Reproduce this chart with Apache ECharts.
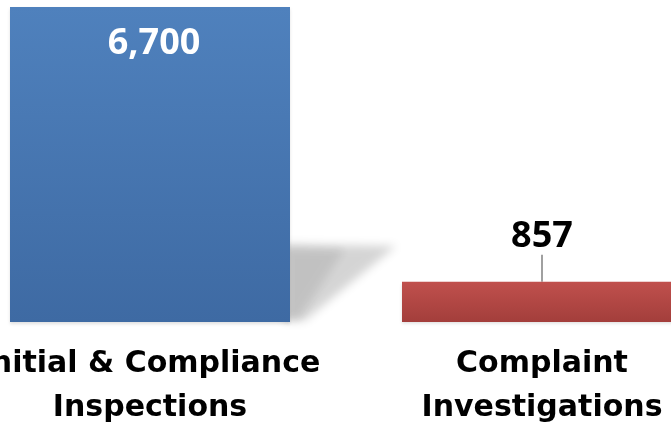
<!DOCTYPE html>
<html>
<head>
<meta charset="utf-8">
<script src="https://cdn.jsdelivr.net/npm/echarts@6/dist/echarts.min.js"></script>
<style>
  html, body { margin: 0; padding: 0; background: #fff; }
  #chart { width: 671px; height: 437px; }
</style>
</head>
<body>
<div id="chart"></div>
<script>
// 数据
const categories = ['Initial & Compliance\nInspections', 'Complaint\nInvestigations'];
const counts = [6700, 857];
const barColors = [
  ['#4f81bd', '#3e6aa3'],
  ['#c0504d', '#a33e3b']
];

const chart = echarts.init(document.getElementById('chart'));

function grad(c) {
  return new echarts.graphic.LinearGradient(0, 0, 0, 1, [
    { offset: 0, color: c[0] },
    { offset: 1, color: c[1] }
  ]);
}

const barWidth = 280;
const OFF = 3000; // 把形状移到画布外，只留下模糊的阴影

const option = {
  animation: false,
  grid: {
    left: -46, right: -67, top: 7, bottom: 115,
    containLabel: false,
    outerBoundsMode: 'none'
  },
  xAxis: {
    type: 'category',
    data: categories,
    axisLine: { show: false },
    axisTick: { show: false },
    axisLabel: {
      interval: 0,
      margin: 20,
      color: '#000',
      fontFamily: 'DejaVu Sans',
      fontWeight: 'bold',
      fontSize: 30,
      lineHeight: 44
    }
  },
  yAxis: {
    type: 'value',
    min: 0,
    max: 6700,
    show: false,
    splitLine: { show: false }
  },
  series: [
    {
      // 蓝色柱子右侧的投影
      type: 'custom',
      z: 1,
      silent: true,
      data: [[0, counts[0]]],
      renderItem: function (params, api) {
        const base = api.coord([0, 0]);
        const x = base[0] + barWidth / 2 - OFF;
        const y = base[1];
        return {
          type: 'group',
          children: [
            {
              type: 'polygon',
              shape: {
                points: [[x - 6, y - 78], [x + 106, y - 76], [x + 14, y - 1], [x - 6, y - 1]]
              },
              style: {
                fill: '#000',
                shadowBlur: 10,
                shadowColor: 'rgba(0,0,0,0.17)',
                shadowOffsetX: OFF
              }
            },
            {
              type: 'polygon',
              shape: {
                points: [[x - 6, y - 75], [x + 55, y - 73], [x + 8, y - 2], [x - 6, y - 2]]
              },
              style: {
                fill: '#000',
                shadowBlur: 10,
                shadowColor: 'rgba(0,0,0,0.09)',
                shadowOffsetX: OFF
              }
            }
          ]
        };
      }
    },
    {
      type: 'bar',
      z: 2,
      barWidth: barWidth,
      data: counts.map((v, i) => ({
        value: v,
        itemStyle: {
          color: grad(barColors[i]),
          shadowColor: 'rgba(0,0,0,0.12)',
          shadowBlur: 3,
          shadowOffsetY: 2
        },
        label: i === 0 ? {
          position: 'insideTop',
          distance: 19,
          color: '#fff'
        } : {
          position: 'top',
          distance: 5,
          color: '#000'
        }
      })),
      label: {
        show: true,
        fontFamily: 'Open Sans',
        fontWeight: 'bold',
        fontSize: 36,
        formatter: p => p.value.toLocaleString('en-US')
      },
      labelLayout: function (params) {
        if (params.dataIndex === 1) return { dy: -22 };
        return { dx: 4 };
      },
      labelLine: {
        show: true,
        lineStyle: { color: '#808080', width: 1.5 }
      }
    }
  ]
};

chart.setOption(option);
</script>
</body>
</html>
